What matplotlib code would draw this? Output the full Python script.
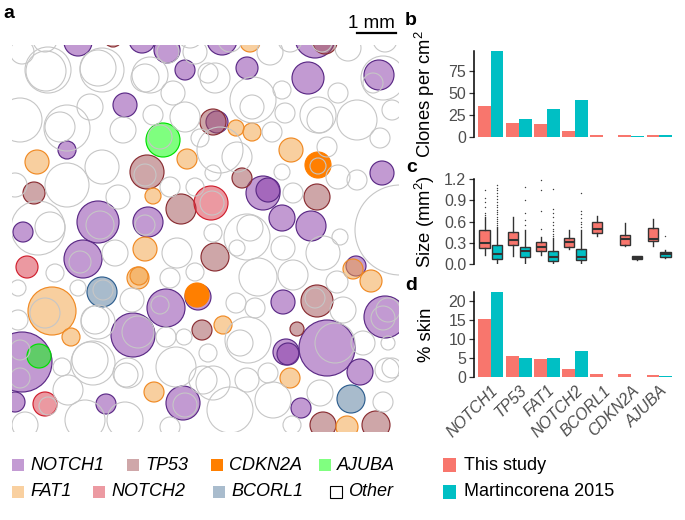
import matplotlib
matplotlib.use('Agg')
import matplotlib.pyplot as plt
from matplotlib.patches import Circle, Rectangle
from matplotlib.lines import Line2D

plt.rcParams['font.family'] = ['Liberation Sans', 'DejaVu Sans']
plt.rcParams['mathtext.fontset'] = 'custom'
plt.rcParams['mathtext.rm'] = 'Liberation Sans'
plt.rcParams['mathtext.it'] = 'Liberation Sans:italic'

# ---------------- data ----------------
genes = ['NOTCH1', 'TP53', 'FAT1', 'NOTCH2', 'BCORL1', 'CDKN2A', 'AJUBA']
clones_this = [35.2, 16.0, 15.0, 6.8, 2.0, 2.3, 2.0]
clones_mart = [97.7, 20.5, 32.0, 42.0, 0.0, 1.0, 2.3]
skin_this = [15.2, 5.7, 4.7, 2.1, 0.9, 0.8, 0.7]
skin_mart = [22.4, 5.1, 5.0, 6.8, 0.0, 0.1, 0.35]

# box stats: (whislo, q1, med, q3, whishi)
size_this = [(0.13, 0.226, 0.296, 0.475, 0.66), (0.11, 0.264, 0.334, 0.45, 0.66),
             (0.13, 0.188, 0.235, 0.306, 0.38), (0.21, 0.24, 0.31, 0.367, 0.48),
             (0.40, 0.44, 0.49, 0.60, 0.68), (0.25, 0.27, 0.36, 0.405, 0.58),
             (0.26, 0.32, 0.36, 0.51, 0.64)]
size_this_out = [[0.69, 0.72, 0.80, 0.87, 0.93, 1.05], [], [0.50, 0.75, 1.05, 1.18],
                 [], [], [], []]
size_mart = [(0.02, 0.07, 0.14, 0.273, 0.52), (0.02, 0.094, 0.18, 0.24, 0.48),
             (0.02, 0.04, 0.10, 0.18, 0.37), (0.02, 0.05, 0.10, 0.21, 0.48),
             None, (0.06, 0.07, 0.09, 0.108, 0.11), (0.09, 0.10, 0.14, 0.165, 0.20)]
size_mart_out = [[0.55, 0.58, 0.61, 0.64, 0.67, 0.70, 0.73, 0.76, 0.80, 0.84, 0.88, 0.92,
                  0.96, 1.00, 1.04, 1.08, 1.11],
                 [0.55, 0.62, 0.72, 0.90, 1.09],
                 [0.40, 0.43, 0.46, 0.50, 0.55, 0.60, 0.66, 0.72, 0.78, 1.06],
                 [0.52, 0.56, 0.60, 0.65, 0.70, 0.75, 1.00],
                 [], [], [0.40]]

# clone map circles (x, y, r) in map units
notch1_circ = [(78, 42, 14), (142, 40, 13), (167, 50, 13), (185, 70, 10), (125, 105, 12),
               (67, 150, 9), (217, 122, 11), (222, 40, 15), (315, 38, 20), (247, 68, 11),
               (308, 78, 16), (379, 75, 15), (382, 173, 12), (263, 193, 17), (268, 190, 12),
               (282, 218, 13), (311, 226, 15), (98, 222, 21), (148, 222, 15), (23, 232, 10),
               (83, 259, 19), (166, 308, 19), (133, 335, 22), (22, 362, 30), (15, 402, 10),
               (106, 404, 10), (183, 403, 17), (198, 297, 13), (356, 266, 10), (283, 302, 12),
               (385, 317, 21), (327, 348, 28), (286, 352, 13), (288, 354, 11), (360, 372, 13),
               (301, 408, 10)]
tp53_circ = [(113, 38, 9), (147, 172, 17), (34, 193, 11), (181, 209, 15), (213, 122, 13),
             (325, 42, 12), (242, 178, 10), (317, 197, 13), (215, 257, 14), (317, 301, 16),
             (202, 330, 10), (297, 329, 7), (323, 425, 13), (376, 425, 14)]
fat1_circ = [(37, 162, 12), (187, 159, 10), (153, 196, 8), (250, 42, 10), (236, 128, 8),
             (252, 132, 9), (291, 150, 12), (145, 249, 12), (138, 278, 11), (139, 276, 9),
             (52, 311, 24), (71, 337, 9), (154, 392, 10), (353, 269, 10), (371, 281, 11),
             (223, 325, 9), (290, 378, 10), (347, 427, 11)]
notch2_circ = [(211, 203, 17), (27, 267, 11), (45, 404, 12)]
bcorl1_circ = [(102, 292, 15), (351, 399, 14)]
ajuba_circ = [(163, 140, 17), (39, 356, 12)]
cdkn2a_circ = [(318, 165, 13), (197, 295, 12)]
other_circ = [(22, 52, 12), (48, 70, 23), (46, 71, 20), (102, 70, 22), (98, 68, 18),
              (150, 75, 18), (145, 78, 14), (195, 52, 12), (208, 73, 10), (173, 93, 12),
              (90, 107, 13), (153, 115, 10), (185, 117, 15), (20, 120, 22), (67, 128, 23),
              (60, 127, 15), (123, 130, 13), (102, 167, 17), (67, 185, 22), (15, 185, 12),
              (170, 187, 10), (195, 187, 9), (118, 197, 12), (200, 138, 9), (160, 137, 12),
              (45, 40, 12), (190, 35, 13), (168, 52, 11),
              (215, 78, 15), (270, 52, 13), (253, 100, 23), (252, 107, 12), (282, 90, 9),
              (285, 113, 10), (318, 115, 18), (320, 120, 13), (338, 93, 10), (348, 48, 13),
              (357, 120, 20), (373, 83, 10), (392, 110, 10), (380, 138, 10), (220, 150, 23),
              (237, 157, 15), (272, 132, 10), (282, 172, 8), (338, 177, 12), (357, 180, 10),
              (293, 193, 10), (213, 173, 8), (327, 147, 10), (383, 78, 22), (318, 166, 8),
              (230, 40, 12), (290, 40, 12), (385, 40, 12), (322, 42, 10),
              (400, 230, 45), (247, 237, 23), (250, 228, 13), (213, 233, 9), (237, 248, 8),
              (283, 248, 12), (323, 253, 17), (340, 237, 8), (258, 277, 19), (293, 275, 15),
              (337, 282, 11), (236, 303, 10), (255, 308, 10), (343, 310, 13), (248, 340, 23),
              (240, 343, 13), (208, 353, 9), (268, 373, 10), (247, 380, 12), (213, 383, 17),
              (363, 343, 12), (388, 343, 7), (387, 370, 12), (392, 368, 10), (320, 393, 13),
              (273, 400, 18), (383, 402, 10), (230, 410, 23), (292, 425, 9), (335, 343, 20),
              (315, 298, 10), (388, 310, 12),
              (38, 228, 27), (50, 227, 15), (115, 253, 13), (177, 253, 15), (55, 273, 9),
              (78, 288, 8), (170, 278, 10), (195, 272, 9), (18, 288, 8), (132, 300, 12),
              (98, 322, 17), (95, 320, 14), (18, 320, 10), (166, 337, 10), (184, 337, 8),
              (93, 363, 22), (90, 360, 18), (62, 367, 9), (128, 373, 15), (126, 375, 12),
              (176, 367, 20), (68, 390, 15), (85, 420, 20), (125, 420, 18), (25, 425, 13),
              (170, 427, 10), (203, 380, 14),
              (100, 225, 14), (145, 225, 10), (80, 262, 11), (160, 305, 9), (138, 332, 16),
              (20, 350, 10), (20, 378, 10), (185, 405, 12), (48, 406, 9), (45, 313, 15),
              (103, 290, 10), (212, 203, 12), (145, 175, 11), (383, 318, 12)]

gene_style = {
    'NOTCH1': ('#8737a7', '#5b2a86', 0.5, '#c39bd3'),
    'TP53': ('#9f4f53', '#8a2e33', 0.5, '#cfa7a9'),
    'FAT1': ('#f3a141', '#f08a24', 0.5, '#f9d0a0'),
    'NOTCH2': ('#d93545', '#d0202e', 0.5, '#ec9aa2'),
    'BCORL1': ('#53799b', '#2f5f8f', 0.5, '#a9bccd'),
    'AJUBA': ('#00ff00', '#00e000', 0.5, '#80ff80'),
    'CDKN2A': ('#ff7f00', '#ff7f00', 1.0, '#ff7f00'),
}
gene_circles = [('NOTCH1', notch1_circ), ('TP53', tp53_circ), ('FAT1', fat1_circ),
                ('NOTCH2', notch2_circ), ('BCORL1', bcorl1_circ), ('AJUBA', ajuba_circ),
                ('CDKN2A', cdkn2a_circ)]

c_this = '#f8766d'
c_mart = '#00bfc4'
tick_col = '#4d4d4d'

W, H = 685, 520
fig = plt.figure(figsize=(W / 100, H / 100), dpi=100)

def fx(px):
    return px / W

def fy(py):
    return 1 - py / H

# ---------------- panel a ----------------
axa = fig.add_axes([fx(12), fy(432), 387 / W, 387 / H])
axa.set_xlim(12, 399)
axa.set_ylim(432, 45)
axa.axis('off')
for g, circs in gene_circles:
    base, edge, alpha, _ = gene_style[g]
    for (x, y, r) in circs:
        c = Circle((x, y), r, facecolor=matplotlib.colors.to_rgba(base, alpha),
                   edgecolor=edge, lw=0.85, zorder=2)
        axa.add_patch(c)
for (x, y, r) in other_circ:
    axa.add_patch(Circle((x, y), r, facecolor='none', edgecolor='#c6c6c6', lw=0.8, zorder=3))

# scale bar
fig.add_artist(Line2D([fx(357), fx(396)], [fy(33), fy(33)], color='black', lw=1.6))
fig.text(fx(371), fy(28), '1 mm', ha='center', va='baseline', fontsize=13.5)

# ---------------- right panels ----------------
xl, xw = fx(474), 202 / W
pos = list(range(len(genes)))

def style_axis(ax):
    for s in ['top', 'right', 'bottom']:
        ax.spines[s].set_visible(False)
    ax.spines['left'].set_linewidth(1.1)
    ax.spines['left'].set_color('black')
    ax.tick_params(axis='y', length=3.5, width=0.9, color='#333333', labelsize=11.5,
                   labelcolor=tick_col, pad=2)
    ax.set_xlim(-0.6, 6.6)

# b
axb = fig.add_axes([xl, fy(137), xw, 86 / H])
axb.bar([p - 0.225 for p in pos], clones_this, width=0.45, color=c_this)
axb.bar([p + 0.225 for p in pos], clones_mart, width=0.45, color=c_mart)
style_axis(axb)
axb.set_ylim(0, max(clones_mart))
axb.set_yticks([0, 25, 50, 75])
axb.set_xticks([])
axb.set_ylabel('Clones per cm$^2$', fontsize=13.3)
axb.yaxis.set_label_coords((437 - 474) / 202, 0.5)

# c
axc = fig.add_axes([xl, fy(264), xw, 85 / H])

def make_stats(q, out):
    return dict(whislo=q[0], q1=q[1], med=q[2], q3=q[3], whishi=q[4], fliers=out)

for data, outs, off, col in [(size_this, size_this_out, -0.225, c_this),
                             (size_mart, size_mart_out, 0.225, c_mart)]:
    stats, ps = [], []
    for i, (q, o) in enumerate(zip(data, outs)):
        if q is None:
            continue
        stats.append(make_stats(q, o))
        ps.append(i + off)
    axc.bxp(stats, positions=ps, widths=0.36, patch_artist=True, showcaps=False,
            boxprops=dict(facecolor=col, edgecolor='#333333', lw=1.0),
            medianprops=dict(color='#333333', lw=1.5),
            whiskerprops=dict(color='#333333', lw=1.0),
            flierprops=dict(marker='o', markersize=0.7, markerfacecolor='#333333',
                            markeredgecolor='#333333', markeredgewidth=0.3, lw=0))
style_axis(axc)
axc.set_ylim(0, 1.2)
axc.set_yticks([0.0, 0.3, 0.6, 0.9, 1.2])
axc.set_yticklabels(['0.0', '0.3', '0.6', '0.9', '1.2'])
axc.set_xticks([])
axc.set_ylabel('Size (mm$^2$)', fontsize=13.3)
axc.yaxis.set_label_coords((437 - 474) / 202, 0.5)

# d
axd = fig.add_axes([xl, fy(377.3), xw, 85.6 / H])
axd.bar([p - 0.225 for p in pos], skin_this, width=0.45, color=c_this)
axd.bar([p + 0.225 for p in pos], skin_mart, width=0.45, color=c_mart)
style_axis(axd)
axd.set_ylim(0, max(skin_mart))
axd.set_yticks([0, 5, 10, 15, 20])
axd.set_xticks(pos)
axd.set_xticklabels(genes, rotation=45, ha='right', va='top', rotation_mode='anchor',
                    fontstyle='italic', fontsize=11.5, color=tick_col)
axd.tick_params(axis='x', length=0, pad=4)
axd.set_ylabel('% skin', fontsize=13.3)
axd.yaxis.set_label_coords((435 - 474) / 202, 0.5)

# panel letters
for lab, x, y in [('a', 3, 18), ('b', 405, 25), ('c', 406, 172), ('d', 405, 290)]:
    fig.text(fx(x), fy(y), lab, fontsize=14, fontweight='bold', va='baseline', ha='left')

# ---------------- legends ----------------
leg_rows = [[('NOTCH1', 12), ('TP53', 127), ('CDKN2A', 211), ('AJUBA', 319)],
            [('FAT1', 12), ('NOTCH2', 93), ('BCORL1', 213), ('Other', 330)]]
row_y = [465, 492]
sq = 12
for row, yc in zip(leg_rows, row_y):
    for g, x0 in row:
        if g == 'Other':
            fc, ec = 'white', 'black'
        else:
            fc, ec = gene_style[g][3], 'none'
        fig.add_artist(Rectangle((fx(x0), fy(yc + sq / 2)), sq / W, sq / H,
                                 facecolor=fc, edgecolor=ec, lw=0.8))
        fig.text(fx(x0 + sq + 6), fy(yc), g, fontsize=13, fontstyle='italic',
                 va='center', ha='left')

for lab, col, yc in [('This study', c_this, 465), ('Martincorena 2015', c_mart, 492)]:
    fig.add_artist(Rectangle((fx(443), fy(yc + 7)), 13 / W, 14 / H, facecolor=col,
                             edgecolor='none'))
    fig.text(fx(464), fy(yc), lab, fontsize=13, va='center', ha='left')

fig.savefig('out.png', dpi=100)
